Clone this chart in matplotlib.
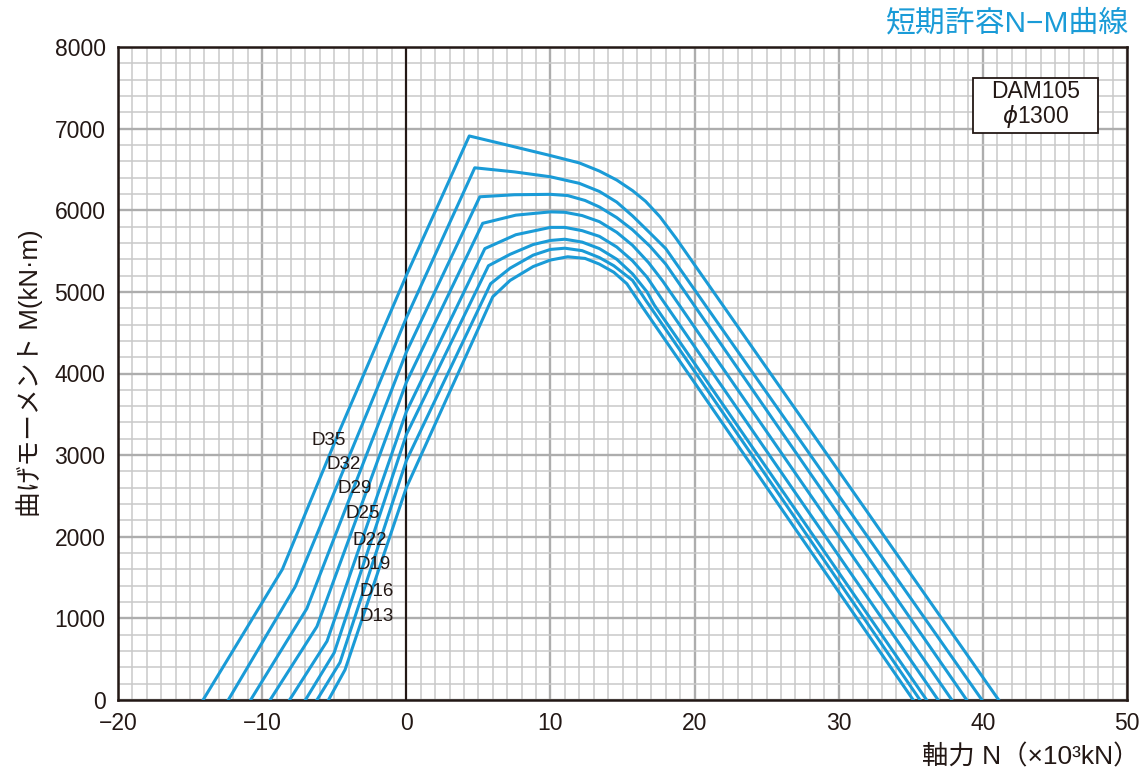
import matplotlib
matplotlib.use("Agg")
import matplotlib.pyplot as plt
from matplotlib.patches import Rectangle
from matplotlib.ticker import MultipleLocator

plt.rcParams['font.family'] = ['Liberation Sans', 'Noto Sans CJK JP', 'DejaVu Sans']

# axial force N (x10^3 kN) and moment M (kN·m) for each bar size
n_d35 = [-14.1, -8.6, -4.7, 0, 4.37, 6.5, 10.0, 12.0, 13.4, 14.6, 15.7, 16.6, 17.6, 18.7, 41.1]
m_d35 = [0, 1600, 3270, 5200, 6910, 6820, 6670, 6580, 6480, 6370, 6240, 6110, 5920, 5660, 0]

n_d32 = [-12.35, -7.7, 0, 4.75, 7.5, 10.0, 12.0, 13.4, 14.6, 15.7, 16.8, 18.0, 39.94]
m_d32 = [0, 1390, 4680, 6520, 6470, 6410, 6330, 6230, 6100, 5930, 5740, 5530, 0]

n_d29 = [-10.8, -6.9, 0, 5.1, 7.5, 10.0, 11.2, 12.4, 13.4, 14.6, 15.7, 16.9, 18.0, 38.88]
m_d29 = [0, 1120, 4260, 6165, 6190, 6195, 6180, 6120, 6040, 5910, 5760, 5560, 5340, 0]

n_d25 = [-9.45, -6.2, 0, 5.3, 7.6, 10.0, 11.0, 12.2, 13.4, 14.6, 15.7, 16.8, 17.8, 37.85]
m_d25 = [0, 900, 3890, 5840, 5940, 5980, 5975, 5935, 5860, 5730, 5570, 5360, 5130, 0]

n_d22 = [-8.1, -5.5, 0, 5.45, 7.6, 10.0, 11.0, 12.2, 13.4, 14.6, 15.7, 16.7, 17.5, 36.9]
m_d22 = [0, 720, 3530, 5530, 5700, 5790, 5790, 5750, 5680, 5550, 5380, 5180, 4970, 0]

n_d19 = [-7.0, -5.0, 0, 5.7, 7.2, 8.8, 10.0, 11.0, 12.2, 13.4, 14.6, 15.7, 16.7, 17.2, 36.1]
m_d19 = [0, 580, 3250, 5320, 5460, 5580, 5630, 5645, 5610, 5530, 5400, 5220, 5000, 4840, 0]

n_d16 = [-6.2, -4.6, 0, 5.85, 7.2, 8.8, 10.0, 11.0, 12.2, 13.4, 14.4, 15.7, 16.6, 17.3, 35.64]
m_d16 = [0, 460, 2930, 5100, 5290, 5450, 5520, 5535, 5505, 5420, 5320, 5140, 4900, 4720, 0]

n_d13 = [-5.4, -4.25, 0, 6.0, 7.2, 8.8, 10.0, 11.2, 12.4, 13.4, 14.4, 15.3, 16.4, 35.17]
m_d13 = [0, 370, 2600, 4940, 5140, 5310, 5390, 5430, 5410, 5340, 5240, 5100, 4810, 0]

bar_names = ["D35", "D32", "D29", "D25", "D22", "D19", "D16", "D13"]
curves_n = [n_d35, n_d32, n_d29, n_d25, n_d22, n_d19, n_d16, n_d13]
curves_m = [m_d35, m_d32, m_d29, m_d25, m_d22, m_d19, m_d16, m_d13]

# where the bar labels sit (data coords, left edge)
label_n = [-6.56, -5.52, -4.75, -4.2, -3.71, -3.43, -3.22, -3.22]
label_m = [3185, 2891, 2585, 2279, 1960, 1654, 1335, 1017]

blue = "#1a9bd7"
dark = "#231815"

fig = plt.figure(figsize=(11.47, 7.8), dpi=100)
ax = fig.add_axes([118 / 1147, 80 / 780, 1009 / 1147, 653 / 780])

ax.set_xlim(-20, 50)
ax.set_ylim(0, 8000)
ax.xaxis.set_major_locator(MultipleLocator(10))
ax.xaxis.set_minor_locator(MultipleLocator(1))
ax.yaxis.set_major_locator(MultipleLocator(1000))
ax.yaxis.set_minor_locator(MultipleLocator(200))
ax.grid(which="minor", color="#c9c9c9", lw=1.1, zorder=0)
ax.grid(which="major", color="#adadad", lw=1.7, zorder=0)
ax.set_axisbelow(True)
ax.tick_params(which="both", length=0, labelsize=16.5, colors=dark)
ax.tick_params(axis="x", pad=9)
ax.tick_params(axis="y", pad=9)
for sp in ax.spines.values():
    sp.set_color(dark)
    sp.set_linewidth(1.8)

ax.axvline(0, color=dark, lw=1.5, zorder=2)

for n, m in zip(curves_n, curves_m):
    ax.plot(n, m, color=blue, lw=2.2, solid_joinstyle="round", zorder=3)

for name, x, y in zip(bar_names, label_n, label_m):
    ax.text(x, y, name, ha="left", va="center", fontsize=13.5, color=dark,
            family=["Liberation Sans Narrow", "Liberation Sans"], zorder=4)

ax.add_patch(Rectangle((0.847, 0.868), 0.124, 0.0845, transform=ax.transAxes,
                       fc="white", ec=dark, lw=1.3, zorder=5))
ax.text(0.909, 0.911, "DAM105\n" + r"$\phi$1300", transform=ax.transAxes,
        ha="center", va="center", fontsize=16.5, color=dark, linespacing=1.0,
        zorder=6)

ax.set_ylabel("曲げモーメント M(kN·m)", fontsize=18.5, color=dark, labelpad=8)
fig.text(1140 / 1147, 1 - 757 / 780, "軸力 N（×10³kN）", ha="right", va="center",
         fontsize=19, color=dark)
fig.text(1128 / 1147, 1 - 23 / 780, "短期許容N−M曲線", ha="right", va="center",
         fontsize=21.5, color=blue)

fig.savefig("out.png", dpi=100)
